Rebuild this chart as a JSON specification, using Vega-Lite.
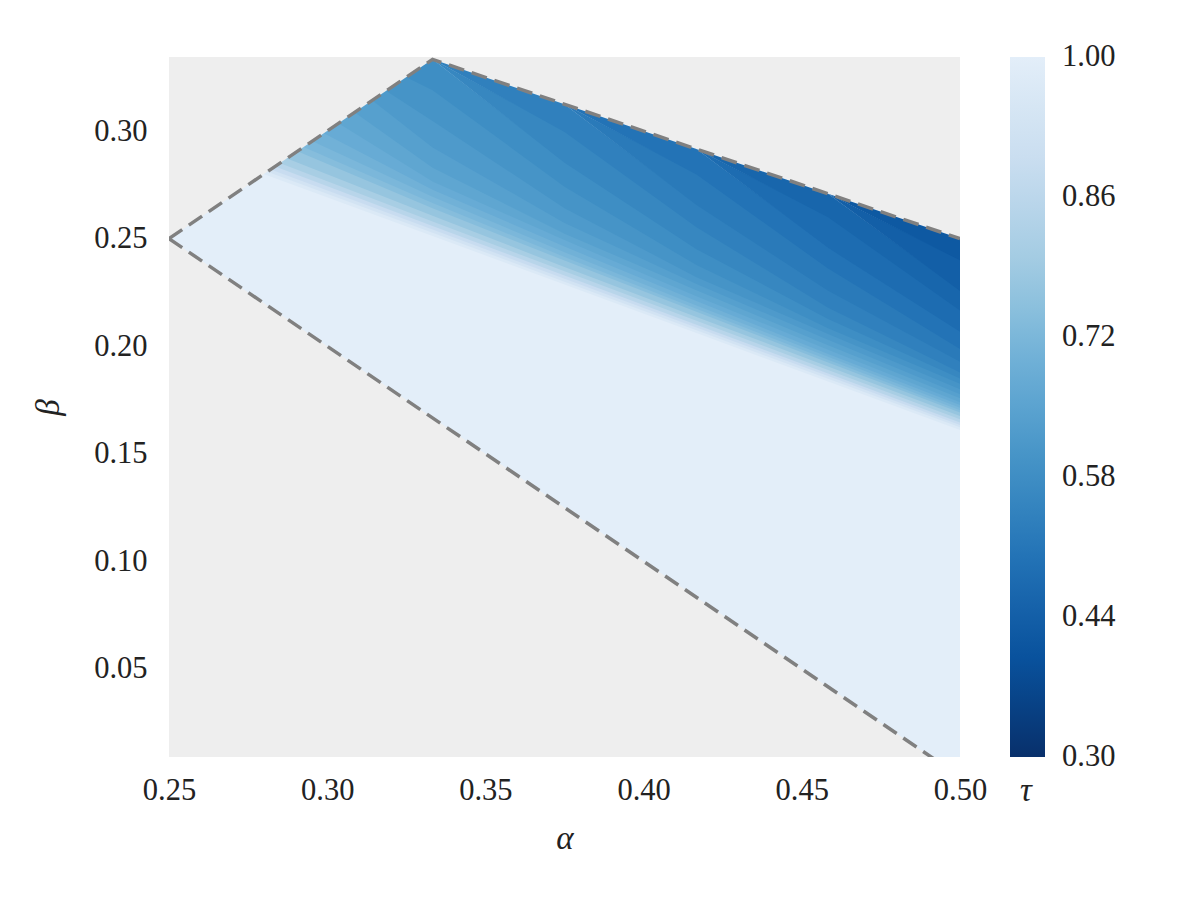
{
  "$schema": "https://vega.github.io/schema/vega-lite/v6.json",
  "width": 791,
  "height": 700,
  "autosize": {"type": "none"},
  "padding": {"left": 169, "top": 57, "right": 240, "bottom": 143},
  "background": "white",
  "config": {
    "view": {"stroke": null, "fill": "#eeeeee"},
    "font": "Liberation Serif",
    "axis": {"grid": false, "ticks": false, "domain": false, "labelFont": "Liberation Serif", "labelFontSize": 30.5, "labelColor": "#222222", "titleFont": "Liberation Serif", "titleFontSize": 33, "titleFontStyle": "italic", "titleFontWeight": "normal", "titleColor": "#222222", "labelFlush": false, "labelOverlap": false},
    "legend": {"gradientLength": 700, "gradientThickness": 35, "labelFontSize": 30.5, "labelFont": "Liberation Serif", "labelColor": "#222222", "labelOffset": 17, "labelBaseline": "middle", "titleFont": "Liberation Serif", "titleFontSize": 33, "titleFontStyle": "italic", "titleFontWeight": "normal", "titleColor": "#222222", "titleOrient": "bottom", "titleAnchor": "start", "titlePadding": 2, "offset": 50, "padding": 0, "gradientStrokeWidth": 0, "labelOverlap": false}
  },
  "datasets": {
    "base": [
      {"a": 0.25, "b": 0.25, "b2": 0.25, "tau": 1.0},
      {"a": 0.3333, "b": 0.1667, "b2": 0.3333, "tau": 1.0},
      {"a": 0.5, "b": 0.0, "b2": 0.25, "tau": 1.0}
    ],
    "bands": [
      {"tau": 0.97, "a": 0.27, "b": 0.2854, "b2": 0.2877}, {"tau": 0.97, "a": 0.3333, "b": 0.2512, "b2": 0.2533}, {"tau": 0.97, "a": 0.375, "b": 0.2287, "b2": 0.2306}, {"tau": 0.97, "a": 0.4167, "b": 0.2061, "b2": 0.2080}, {"tau": 0.97, "a": 0.4583, "b": 0.1836, "b2": 0.1855}, {"tau": 0.97, "a": 0.5, "b": 0.1611, "b2": 0.1629},
      {"tau": 0.93, "a": 0.27, "b": 0.2871, "b2": 0.2894}, {"tau": 0.93, "a": 0.3333, "b": 0.2527, "b2": 0.2548}, {"tau": 0.93, "a": 0.375, "b": 0.2300, "b2": 0.2320}, {"tau": 0.93, "a": 0.4167, "b": 0.2074, "b2": 0.2093}, {"tau": 0.93, "a": 0.4583, "b": 0.1849, "b2": 0.1867}, {"tau": 0.93, "a": 0.5, "b": 0.1623, "b2": 0.1640},
      {"tau": 0.89, "a": 0.27, "b": 0.2888, "b2": 0.2916}, {"tau": 0.89, "a": 0.3333, "b": 0.2542, "b2": 0.2565}, {"tau": 0.89, "a": 0.375, "b": 0.2314, "b2": 0.2335}, {"tau": 0.89, "a": 0.4167, "b": 0.2087, "b2": 0.2106}, {"tau": 0.89, "a": 0.4583, "b": 0.1861, "b2": 0.1879}, {"tau": 0.89, "a": 0.5, "b": 0.1634, "b2": 0.1652},
      {"tau": 0.85, "a": 0.27, "b": 0.2910, "b2": 0.2941}, {"tau": 0.85, "a": 0.3333, "b": 0.2559, "b2": 0.2586}, {"tau": 0.85, "a": 0.375, "b": 0.2329, "b2": 0.2354}, {"tau": 0.85, "a": 0.4167, "b": 0.2100, "b2": 0.2124}, {"tau": 0.85, "a": 0.4583, "b": 0.1873, "b2": 0.1895}, {"tau": 0.85, "a": 0.5, "b": 0.1646, "b2": 0.1666},
      {"tau": 0.81, "a": 0.27, "b": 0.2935, "b2": 0.2979}, {"tau": 0.81, "a": 0.3333, "b": 0.2580, "b2": 0.2612}, {"tau": 0.81, "a": 0.375, "b": 0.2348, "b2": 0.2374}, {"tau": 0.81, "a": 0.4167, "b": 0.2118, "b2": 0.2142}, {"tau": 0.81, "a": 0.4583, "b": 0.1889, "b2": 0.1912}, {"tau": 0.81, "a": 0.5, "b": 0.1660, "b2": 0.1682},
      {"tau": 0.77, "a": 0.27, "b": 0.2973, "b2": 0.3039}, {"tau": 0.77, "a": 0.3333, "b": 0.2606, "b2": 0.2647}, {"tau": 0.77, "a": 0.375, "b": 0.2368, "b2": 0.2404}, {"tau": 0.77, "a": 0.4167, "b": 0.2136, "b2": 0.2166}, {"tau": 0.77, "a": 0.4583, "b": 0.1906, "b2": 0.1930}, {"tau": 0.77, "a": 0.5, "b": 0.1676, "b2": 0.1698},
      {"tau": 0.74, "a": 0.27, "b": 0.3033, "b2": 0.3076}, {"tau": 0.74, "a": 0.3333, "b": 0.2641, "b2": 0.2671}, {"tau": 0.74, "a": 0.375, "b": 0.2398, "b2": 0.2421}, {"tau": 0.74, "a": 0.4167, "b": 0.2160, "b2": 0.2180}, {"tau": 0.74, "a": 0.4583, "b": 0.1924, "b2": 0.1943}, {"tau": 0.74, "a": 0.5, "b": 0.1692, "b2": 0.1708},
      {"tau": 0.72, "a": 0.27, "b": 0.3070, "b2": 0.3130}, {"tau": 0.72, "a": 0.3333, "b": 0.2665, "b2": 0.2701}, {"tau": 0.72, "a": 0.375, "b": 0.2415, "b2": 0.2443}, {"tau": 0.72, "a": 0.4167, "b": 0.2174, "b2": 0.2195}, {"tau": 0.72, "a": 0.4583, "b": 0.1937, "b2": 0.1957}, {"tau": 0.72, "a": 0.5, "b": 0.1702, "b2": 0.1720},
      {"tau": 0.70, "a": 0.27, "b": 0.3124, "b2": 0.3217}, {"tau": 0.70, "a": 0.3333, "b": 0.2695, "b2": 0.2733}, {"tau": 0.70, "a": 0.375, "b": 0.2437, "b2": 0.2469}, {"tau": 0.70, "a": 0.4167, "b": 0.2189, "b2": 0.2216}, {"tau": 0.70, "a": 0.4583, "b": 0.1951, "b2": 0.1970}, {"tau": 0.70, "a": 0.5, "b": 0.1714, "b2": 0.1733},
      {"tau": 0.68, "a": 0.27, "b": 0.3211, "b2": 0.3348}, {"tau": 0.68, "a": 0.3333, "b": 0.2727, "b2": 0.2771}, {"tau": 0.68, "a": 0.375, "b": 0.2463, "b2": 0.2499}, {"tau": 0.68, "a": 0.4167, "b": 0.2210, "b2": 0.2238}, {"tau": 0.68, "a": 0.4583, "b": 0.1964, "b2": 0.1990}, {"tau": 0.68, "a": 0.5, "b": 0.1727, "b2": 0.1746},
      {"tau": 0.66, "a": 0.27, "b": 0.3342, "b2": 0.3497}, {"tau": 0.66, "a": 0.3333, "b": 0.2765, "b2": 0.2835}, {"tau": 0.66, "a": 0.375, "b": 0.2493, "b2": 0.2529}, {"tau": 0.66, "a": 0.4167, "b": 0.2232, "b2": 0.2266}, {"tau": 0.66, "a": 0.4583, "b": 0.1984, "b2": 0.2010}, {"tau": 0.66, "a": 0.5, "b": 0.1740, "b2": 0.1764},
      {"tau": 0.64, "a": 0.27, "b": 0.3491, "b2": 0.3650}, {"tau": 0.64, "a": 0.3333, "b": 0.2829, "b2": 0.2930}, {"tau": 0.64, "a": 0.375, "b": 0.2523, "b2": 0.2579}, {"tau": 0.64, "a": 0.4167, "b": 0.2260, "b2": 0.2295}, {"tau": 0.64, "a": 0.4583, "b": 0.2004, "b2": 0.2036}, {"tau": 0.64, "a": 0.5, "b": 0.1758, "b2": 0.1783},
      {"tau": 0.62, "a": 0.27, "b": 0.3650, "b2": 0.3650}, {"tau": 0.62, "a": 0.3333, "b": 0.2924, "b2": 0.3053}, {"tau": 0.62, "a": 0.375, "b": 0.2573, "b2": 0.2647}, {"tau": 0.62, "a": 0.4167, "b": 0.2289, "b2": 0.2327}, {"tau": 0.62, "a": 0.4583, "b": 0.2030, "b2": 0.2063}, {"tau": 0.62, "a": 0.5, "b": 0.1777, "b2": 0.1806},
      {"tau": 0.60, "a": 0.27, "b": 0.3650, "b2": 0.3650}, {"tau": 0.60, "a": 0.3333, "b": 0.3047, "b2": 0.3196}, {"tau": 0.60, "a": 0.375, "b": 0.2641, "b2": 0.2747}, {"tau": 0.60, "a": 0.4167, "b": 0.2321, "b2": 0.2383}, {"tau": 0.60, "a": 0.4583, "b": 0.2057, "b2": 0.2089}, {"tau": 0.60, "a": 0.5, "b": 0.1800, "b2": 0.1831},
      {"tau": 0.58, "a": 0.27, "b": 0.3650, "b2": 0.3650}, {"tau": 0.58, "a": 0.3333, "b": 0.3190, "b2": 0.3333}, {"tau": 0.58, "a": 0.375, "b": 0.2741, "b2": 0.2859}, {"tau": 0.58, "a": 0.4167, "b": 0.2377, "b2": 0.2457}, {"tau": 0.58, "a": 0.4583, "b": 0.2083, "b2": 0.2132}, {"tau": 0.58, "a": 0.5, "b": 0.1825, "b2": 0.1856},
      {"tau": 0.56, "a": 0.3333, "b": 0.3333, "b2": 0.3333}, {"tau": 0.56, "a": 0.375, "b": 0.2853, "b2": 0.3002}, {"tau": 0.56, "a": 0.4167, "b": 0.2451, "b2": 0.2559}, {"tau": 0.56, "a": 0.4583, "b": 0.2126, "b2": 0.2185}, {"tau": 0.56, "a": 0.5, "b": 0.1850, "b2": 0.1884},
      {"tau": 0.54, "a": 0.3333, "b": 0.3333, "b2": 0.3333}, {"tau": 0.54, "a": 0.375, "b": 0.2996, "b2": 0.3125}, {"tau": 0.54, "a": 0.4167, "b": 0.2553, "b2": 0.2662}, {"tau": 0.54, "a": 0.4583, "b": 0.2179, "b2": 0.2264}, {"tau": 0.54, "a": 0.5, "b": 0.1878, "b2": 0.1934},
      {"tau": 0.52, "a": 0.375, "b": 0.3125, "b2": 0.3125}, {"tau": 0.52, "a": 0.4167, "b": 0.2656, "b2": 0.2804}, {"tau": 0.52, "a": 0.4583, "b": 0.2258, "b2": 0.2367}, {"tau": 0.52, "a": 0.5, "b": 0.1928, "b2": 0.1993},
      {"tau": 0.50, "a": 0.375, "b": 0.3125, "b2": 0.3125}, {"tau": 0.50, "a": 0.4167, "b": 0.2798, "b2": 0.2917}, {"tau": 0.50, "a": 0.4583, "b": 0.2361, "b2": 0.2463}, {"tau": 0.50, "a": 0.5, "b": 0.1987, "b2": 0.2073},
      {"tau": 0.48, "a": 0.4167, "b": 0.2917, "b2": 0.2917}, {"tau": 0.48, "a": 0.4583, "b": 0.2457, "b2": 0.2605}, {"tau": 0.48, "a": 0.5, "b": 0.2067, "b2": 0.2172},
      {"tau": 0.46, "a": 0.4167, "b": 0.2917, "b2": 0.2917}, {"tau": 0.46, "a": 0.4583, "b": 0.2599, "b2": 0.2708}, {"tau": 0.46, "a": 0.5, "b": 0.2166, "b2": 0.2263},
      {"tau": 0.44, "a": 0.4583, "b": 0.2708, "b2": 0.2708}, {"tau": 0.44, "a": 0.5, "b": 0.2257, "b2": 0.2405},
      {"tau": 0.42, "a": 0.4583, "b": 0.2708, "b2": 0.2708}, {"tau": 0.42, "a": 0.5, "b": 0.2399, "b2": 0.2500}
    ],
    "mask": [
      {"a": 0.25, "b": 0.25, "b2": 0.3344},
      {"a": 0.3333, "b": 0.3333, "b2": 0.3344}
    ],
    "lines": [
      {"seg": "upper", "a": 0.25, "b": 0.25},
      {"seg": "upper", "a": 0.3333, "b": 0.3333},
      {"seg": "upper", "a": 0.5, "b": 0.25},
      {"seg": "lower", "a": 0.25, "b": 0.25},
      {"seg": "lower", "a": 0.5, "b": 0.0}
    ]
  },
  "encoding": {
    "x": {"field": "a", "type": "quantitative", "scale": {"domain": [0.25, 0.5], "nice": false, "zero": false}, "axis": {"title": "α", "values": [0.25, 0.3, 0.35, 0.4, 0.45, 0.5], "format": ".2f", "labelPadding": 18, "titlePadding": 17}},
    "y": {"field": "b", "type": "quantitative", "scale": {"domain": [0.0091, 0.3344], "nice": false, "zero": false}, "axis": {"title": "β", "values": [0.05, 0.1, 0.15, 0.2, 0.25, 0.3], "format": ".2f", "labelPadding": 22, "titlePadding": 28}}
  },
  "layer": [
    {
      "data": {"name": "base"},
      "mark": {"type": "area", "clip": true},
      "encoding": {
        "y2": {"field": "b2"},
        "fill": {"field": "tau", "type": "quantitative", "scale": {"type": "linear", "domain": [0.3, 0.3972, 0.4944, 0.5917, 0.6889, 0.7861, 0.8833, 0.9806, 1.0], "range": ["#08306b", "#08519c", "#2171b5", "#4292c6", "#6baed6", "#9ecae1", "#c6dbef", "#deebf7", "#e3eef9"], "interpolate": "rgb"}, "legend": {"type": "gradient", "title": "τ", "values": [0.3, 0.44, 0.58, 0.72, 0.86, 1.0], "format": ".2f", "labelOffset": 17, "labelBaseline": "middle", "titlePadding": 2, "encode": {"title": {"update": {"dx": {"value": 10}}}, "labels": {"update": {"baseline": {"value": "middle"}}}}}}
      }
    },
    {
      "data": {"name": "bands"},
      "mark": {"type": "area", "clip": true},
      "encoding": {
        "y2": {"field": "b2"},
        "detail": {"field": "tau", "type": "quantitative"},
        "fill": {"field": "tau", "type": "quantitative", "scale": {"type": "linear", "domain": [0.3, 0.3972, 0.4944, 0.5917, 0.6889, 0.7861, 0.8833, 0.9806, 1.0], "range": ["#08306b", "#08519c", "#2171b5", "#4292c6", "#6baed6", "#9ecae1", "#c6dbef", "#deebf7", "#e3eef9"], "interpolate": "rgb"}, "legend": {"type": "gradient", "title": "τ", "values": [0.3, 0.44, 0.58, 0.72, 0.86, 1.0], "format": ".2f", "labelOffset": 17, "labelBaseline": "middle", "titlePadding": 2, "encode": {"title": {"update": {"dx": {"value": 10}}}, "labels": {"update": {"baseline": {"value": "middle"}}}}}}
      }
    },
    {
      "data": {"name": "mask"},
      "mark": {"type": "area", "clip": true, "color": "#eeeeee"},
      "encoding": {"y2": {"field": "b2"}}
    },
    {
      "data": {"name": "lines"},
      "mark": {"type": "line", "clip": true, "color": "#808080", "strokeWidth": 3.5, "strokeDash": [16, 8]},
      "encoding": {"detail": {"field": "seg"}}
    }
  ]
}
